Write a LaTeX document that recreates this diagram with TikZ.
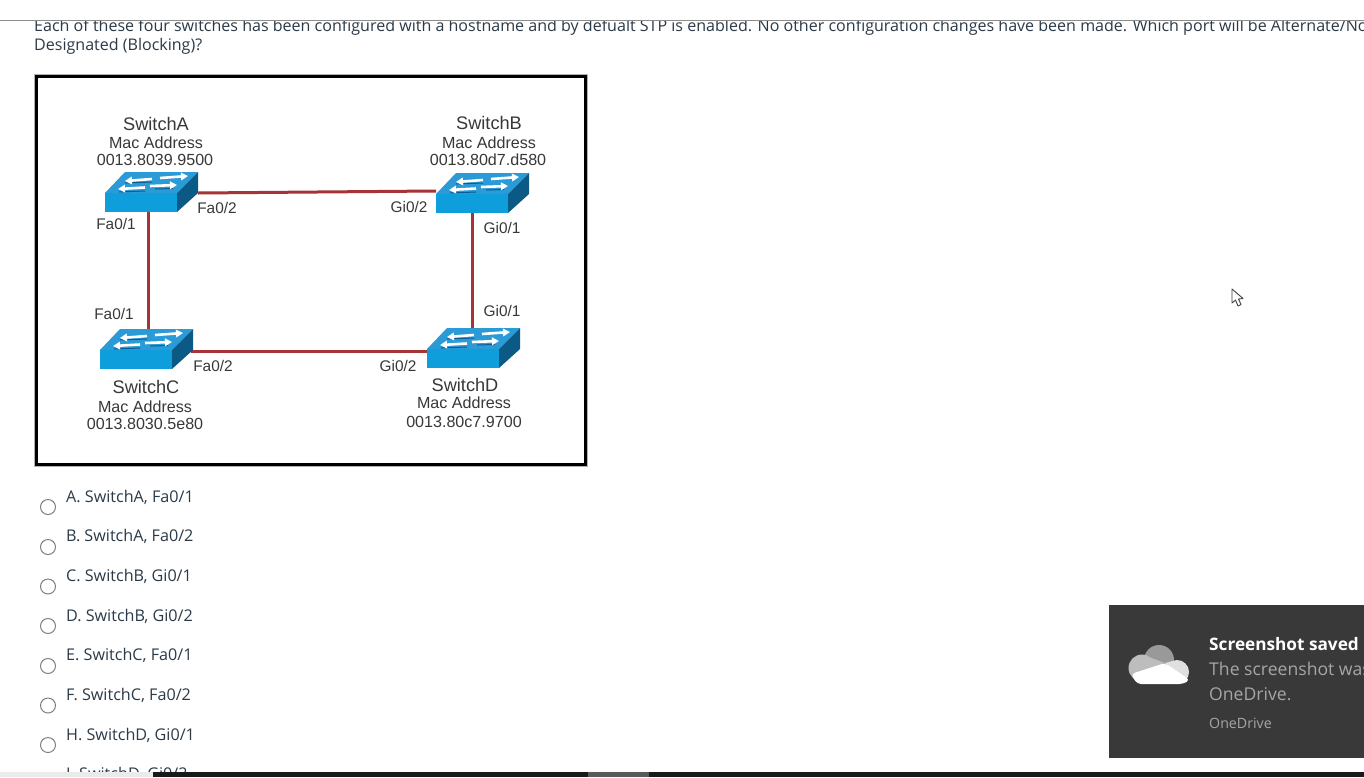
\documentclass[tikz,border=0pt]{standalone}
\usepackage{fontspec}
\usetikzlibrary{arrows.meta}
\setmainfont{Open Sans}
\newfontfamily\diagfont{Liberation Sans}
\definecolor{swtop}{HTML}{2A9BD6}
\definecolor{swfront}{HTML}{0F9EDC}
\definecolor{swside}{HTML}{0A5A85}
\definecolor{swshadow}{HTML}{0B5C94}
\definecolor{linkred}{HTML}{A53434}
\definecolor{ink}{HTML}{2B3A48}
\definecolor{toast}{HTML}{393939}
\tikzset{
  link/.style={draw=linkred,line width=3pt},
  swbox/.style={minimum width=93pt,minimum height=40pt,inner sep=0pt,outer sep=0pt},
  swarrow/.style={white,line width=2.6pt,-{Triangle[width=7.5pt,length=7pt]}},
  swline/.style={swshadow,line width=1pt},
  dname/.style={font=\diagfont\fontsize{18.2}{18}\selectfont,text=black!78,inner sep=0pt},
  dmac/.style={font=\diagfont\fontsize{16.1}{16}\selectfont,text=black!78,inner sep=0pt},
  dport/.style={font=\diagfont\fontsize{15.4}{15}\selectfont,text=black!78,inner sep=0pt},
  answer/.style={font=\fontsize{16.15}{16}\selectfont,text=ink,anchor=west,inner sep=0pt},
  radio/.style={circle,draw=black!50,fill=white,line width=1pt,minimum size=15pt,inner sep=0pt},
  question/.style={font=\fontsize{16.05}{16}\selectfont,text=ink,anchor=west,inner sep=0pt},
  toasttext/.style={anchor=west,inner sep=0pt,text=black!35,font=\fontsize{17.6}{18}\selectfont},
}
% name, left x, top y
\newcommand{\switchicon}[3]{%
  \node[swbox] (#1) at (#2+46.5,#3+20) {};
  \fill[swtop] (#2,#3+21) -- (#2+20,#3) -- (#2+93,#3) -- (#2+72,#3+21) -- cycle;
  \fill[swfront] (#2,#3+21) rectangle (#2+72,#3+40);
  \fill[swside] (#2+72,#3+21) -- (#2+93,#3) -- (#2+93,#3+21) -- (#2+72,#3+40) -- cycle;
  \draw[swline] (#2+20,#3+11) -- (#2+47,#3+10);
  \draw[swline] (#2+14,#3+20) -- (#2+40,#3+19);
  \draw[swline] (#2+50,#3+17) -- (#2+68,#3+16.5);
  \draw[swarrow] (#2+47,#3+7) -- (#2+20,#3+9);
  \draw[swarrow] (#2+55,#3+6) -- (#2+83,#3+4);
  \draw[swarrow] (#2+40,#3+15.5) -- (#2+13,#3+17);
  \draw[swarrow] (#2+45,#3+14) -- (#2+72,#3+13);
}
\begin{document}
\begin{tikzpicture}[x=1pt,y=-1pt]
\useasboundingbox (0,0) rectangle (1364,777);
\fill[white] (0,0) rectangle (1364,777);
% page text
\begin{scope}
\clip (0,20) rectangle (1364,777);
\node[question] (q1) at (34,27.5) {Each of these four switches has been configured with a hostname and by defualt STP is enabled. No other configuration changes have been made. Which port will be Alternate/No};
\node[question] (q2) at (34,46) {Designated (Blocking)?};
\end{scope}
\draw[black!45,line width=1pt] (0,20) -- (1364,20);
% diagram frame
\draw[black!30,line width=1pt] (34.5,74.5) rectangle (587.5,466.5);
\node[draw=black,line width=3pt,minimum width=549pt,minimum height=388pt,inner sep=0pt] (frame) at (311,270.5) {};
% links
\path node[swbox] (swA) at (151.5,192) {} node[swbox] (swB) at (482.5,193) {}
      node[swbox] (swC) at (146.5,349) {} node[swbox] (swD) at (473.5,348) {};
\draw[link] ([yshift=-1pt]swA.east) -- ([yshift=2pt]swB.west);
\draw[link] ([xshift=-3.5pt]swA.south) -- ([xshift=1.5pt]swC.north);
\draw[link] ([yshift=-2pt,xshift=-2pt]swC.east) -- ([yshift=-3pt]swD.west);
\draw[link] ([xshift=-10.5pt]swB.south) -- ([xshift=-1.5pt]swD.north);
% switches
\switchicon{swA}{105}{172}
\switchicon{swB}{436}{173}
\switchicon{swC}{100}{329}
\switchicon{swD}{427}{328}
% labels
\node[dname] (la) at (156,124) {SwitchA};
\node[dmac] (lam) at (156,143) {Mac Address};
\node[dmac] (laa) at (155,160) {0013.8039.9500};
\node[dname] (lb) at (489,123) {SwitchB};
\node[dmac] (lbm) at (489,143) {Mac Address};
\node[dmac] (lba) at (488,160) {0013.80d7.d580};
\node[dname] (lc) at (146,387) {SwitchC};
\node[dmac] (lcm) at (145,407) {Mac Address};
\node[dmac] (lca) at (145,424) {0013.8030.5e80};
\node[dname] (ld) at (465,385) {SwitchD};
\node[dmac] (ldm) at (464,403) {Mac Address};
\node[dmac] (lda) at (464,422) {0013.80c7.9700};
\node[dport] (p1) at (116,224) {Fa0/1};
\node[dport] (p2) at (217,208) {Fa0/2};
\node[dport] (p3) at (409,207) {Gi0/2};
\node[dport] (p4) at (502,228) {Gi0/1};
\node[dport] (p5) at (114,314) {Fa0/1};
\node[dport] (p6) at (213,366) {Fa0/2};
\node[dport] (p7) at (502,311) {Gi0/1};
\node[dport] (p8) at (398,366) {Gi0/2};
% answers
\node[answer] (a1) at (66,497) {A. SwitchA, Fa0/1};
\node[answer] (a2) at (66,536.5) {B. SwitchA, Fa0/2};
\node[answer] (a3) at (66,576) {C. SwitchB, Gi0/1};
\node[answer] (a4) at (66,616) {D. SwitchB, Gi0/2};
\node[answer] (a5) at (66,655.5) {E. SwitchC, Fa0/1};
\node[answer] (a6) at (66,695) {F. SwitchC, Fa0/2};
\node[answer] (a7) at (66,735) {H. SwitchD, Gi0/1};
\begin{scope}
\clip (0,760) rectangle (1364,772);
\node[answer] (a8) at (66,774) {I. SwitchD, Gi0/2};
\end{scope}
\node[radio] (r1) at (48,507) {};
\node[radio] (r2) at (48,547) {};
\node[radio] (r3) at (48,586.5) {};
\node[radio] (r4) at (48,626) {};
\node[radio] (r5) at (48,666) {};
\node[radio] (r6) at (48,705.5) {};
\node[radio] (r7) at (48,745) {};
% cursor
\draw[black!75,fill=white,line width=.9pt,line join=round] (1232,289) -- (1232,303) -- (1235.5,300) -- (1238,306) -- (1241,304.5) -- (1238.5,299) -- (1243,298.5) -- cycle;
% toast
\fill[toast] (1109,605) rectangle (1364,758);
\fill[black!40] (1159,660) circle (15);
\fill[black!26] (1142,668) circle (13.5) (1142,654.5) -- (1165,663) -- (1142,681.5) -- cycle;
\fill[black!12] (1177,672) circle (12) (1165,663) -- (1177,660) -- (1189,672) -- (1177,684) -- cycle;
\fill[white,rounded corners=4pt] (1131,674) -- (1165,663) -- (1190,680) -- (1183,684) -- (1137,684) -- cycle;
\begin{scope}
\clip (1109,605) rectangle (1364,758);
\node[anchor=west,inner sep=0pt,text=white,font=\bfseries\fontsize{17.2}{18}\selectfont] (t1) at (1209,644) {Screenshot saved};
\node[toasttext] (t2) at (1209,669) {The screenshot was};
\node[toasttext] (t3) at (1209,694) {OneDrive.};
\node[toasttext,font=\fontsize{14.2}{15}\selectfont] (t4) at (1209,723) {OneDrive};
\end{scope}
% task bar
\fill[black!8] (0,772) rectangle (153,777);
\fill[black!90] (153,772) rectangle (1364,777);
\fill[black!65] (588,772) rectangle (649,777);
\end{tikzpicture}
\end{document}
